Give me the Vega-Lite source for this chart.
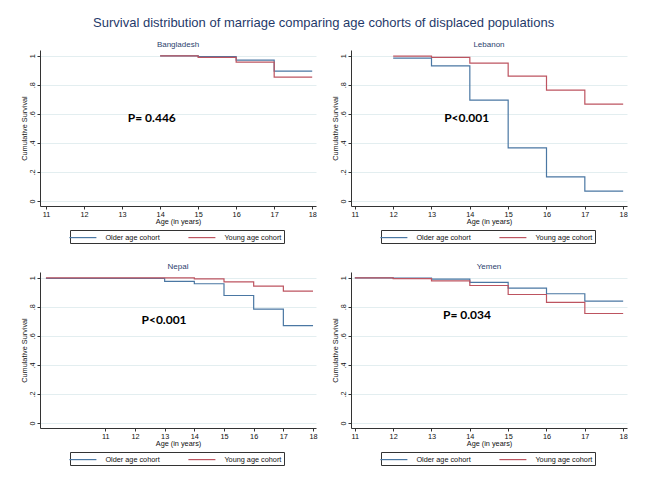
{
  "$schema": "https://vega.github.io/schema/vega-lite/v6.json",
  "background": "white",
  "padding": {"left": 20, "top": 17, "right": 0, "bottom": 0},
  "title": {"text": "Survival distribution of marriage comparing age cohorts of displaced populations", "fontSize": 13, "font": "Liberation Sans", "fontWeight": "normal", "color": "#1f3a6a", "anchor": "middle", "offset": 11},
  "datasets": {
    "bangladesh": [
      {"age": 14, "surv": 1.0, "cohort": "Older age cohort"},
      {"age": 15, "surv": 0.995, "cohort": "Older age cohort"},
      {"age": 16, "surv": 0.970, "cohort": "Older age cohort"},
      {"age": 17, "surv": 0.894, "cohort": "Older age cohort"},
      {"age": 18, "surv": 0.894, "cohort": "Older age cohort"},
      {"age": 14, "surv": 1.0, "cohort": "Young age cohort"},
      {"age": 15, "surv": 0.989, "cohort": "Young age cohort"},
      {"age": 16, "surv": 0.956, "cohort": "Young age cohort"},
      {"age": 17, "surv": 0.853, "cohort": "Young age cohort"},
      {"age": 18, "surv": 0.853, "cohort": "Young age cohort"}
    ],
    "lebanon": [
      {"age": 12, "surv": 0.984, "cohort": "Older age cohort"},
      {"age": 13, "surv": 0.931, "cohort": "Older age cohort"},
      {"age": 14, "surv": 0.694, "cohort": "Older age cohort"},
      {"age": 15, "surv": 0.366, "cohort": "Older age cohort"},
      {"age": 16, "surv": 0.166, "cohort": "Older age cohort"},
      {"age": 17, "surv": 0.067, "cohort": "Older age cohort"},
      {"age": 18, "surv": 0.067, "cohort": "Older age cohort"},
      {"age": 12, "surv": 0.998, "cohort": "Young age cohort"},
      {"age": 13, "surv": 0.989, "cohort": "Young age cohort"},
      {"age": 14, "surv": 0.949, "cohort": "Young age cohort"},
      {"age": 15, "surv": 0.860, "cohort": "Young age cohort"},
      {"age": 16, "surv": 0.763, "cohort": "Young age cohort"},
      {"age": 17, "surv": 0.667, "cohort": "Young age cohort"},
      {"age": 18, "surv": 0.667, "cohort": "Young age cohort"}
    ],
    "nepal": [
      {"age": 9, "surv": 0.996, "cohort": "Older age cohort"},
      {"age": 13, "surv": 0.975, "cohort": "Older age cohort"},
      {"age": 14, "surv": 0.959, "cohort": "Older age cohort"},
      {"age": 15, "surv": 0.878, "cohort": "Older age cohort"},
      {"age": 16, "surv": 0.784, "cohort": "Older age cohort"},
      {"age": 17, "surv": 0.671, "cohort": "Older age cohort"},
      {"age": 18, "surv": 0.671, "cohort": "Older age cohort"},
      {"age": 9, "surv": 1.0, "cohort": "Young age cohort"},
      {"age": 14, "surv": 0.993, "cohort": "Young age cohort"},
      {"age": 15, "surv": 0.972, "cohort": "Young age cohort"},
      {"age": 16, "surv": 0.943, "cohort": "Young age cohort"},
      {"age": 17, "surv": 0.908, "cohort": "Young age cohort"},
      {"age": 18, "surv": 0.908, "cohort": "Young age cohort"}
    ],
    "yemen": [
      {"age": 11, "surv": 1.0, "cohort": "Older age cohort"},
      {"age": 12, "surv": 0.998, "cohort": "Older age cohort"},
      {"age": 13, "surv": 0.991, "cohort": "Older age cohort"},
      {"age": 14, "surv": 0.968, "cohort": "Older age cohort"},
      {"age": 15, "surv": 0.929, "cohort": "Older age cohort"},
      {"age": 16, "surv": 0.890, "cohort": "Older age cohort"},
      {"age": 17, "surv": 0.839, "cohort": "Older age cohort"},
      {"age": 18, "surv": 0.839, "cohort": "Older age cohort"},
      {"age": 11, "surv": 1.0, "cohort": "Young age cohort"},
      {"age": 12, "surv": 0.995, "cohort": "Young age cohort"},
      {"age": 13, "surv": 0.979, "cohort": "Young age cohort"},
      {"age": 14, "surv": 0.947, "cohort": "Young age cohort"},
      {"age": 15, "surv": 0.885, "cohort": "Young age cohort"},
      {"age": 16, "surv": 0.830, "cohort": "Young age cohort"},
      {"age": 17, "surv": 0.754, "cohort": "Young age cohort"},
      {"age": 18, "surv": 0.754, "cohort": "Young age cohort"}
    ]
  },
  "columns": 2,
  "spacing": {"row": 19, "column": 13},
  "resolve": {"scale": {"x": "independent", "y": "independent", "color": "independent"}, "legend": {"color": "independent"}},
  "concat": [
    {
      "width": 276, "height": 156,
      "title": {"text": "Bangladesh", "fontWeight": "normal"},
      "layer": [
        {
          "data": {"name": "bangladesh"},
          "mark": {"type": "line", "interpolate": "step-after", "strokeWidth": 1.2},
          "encoding": {
            "x": {"field": "age", "type": "quantitative", "scale": {"domain": [10.84, 18.1], "nice": false, "zero": false}, "axis": {"values": [11, 12, 13, 14, 15, 16, 17, 18], "tickCount": 20, "format": "d", "title": "Age (in years)", "labelOverlap": false}},
            "y": {"field": "surv", "type": "quantitative", "scale": {"domain": [-0.035, 1.04], "nice": false}, "axis": {"values": [0, 0.2, 0.4, 0.6, 0.8, 1], "tickCount": 20, "title": "Cumulative Survival", "labelOverlap": false}},
            "color": {"field": "cohort", "type": "nominal", "scale": {"domain": ["Older age cohort", "Young age cohort"], "range": ["#4a77a3", "#bd5460"]}, "legend": {"orient": "none", "legendX": 30, "legendY": 180}}
          }
        },
        {
          "data": {"values": [{"label": "P= 0.446"}]},
          "mark": {"type": "text", "align": "left", "baseline": "middle", "font": "Lato", "fontWeight": "bold", "fontSize": 12, "color": "black"},
          "encoding": {"x": {"datum": 13.15}, "y": {"datum": 0.572}, "text": {"field": "label"}}
        }
      ]
    },
    {
      "width": 276, "height": 156,
      "title": {"text": "Lebanon", "fontWeight": "normal"},
      "layer": [
        {
          "data": {"name": "lebanon"},
          "mark": {"type": "line", "interpolate": "step-after", "strokeWidth": 1.2},
          "encoding": {
            "x": {"field": "age", "type": "quantitative", "scale": {"domain": [10.9, 18.1], "nice": false, "zero": false}, "axis": {"values": [11, 12, 13, 14, 15, 16, 17, 18], "tickCount": 20, "format": "d", "title": "Age (in years)", "labelOverlap": false}},
            "y": {"field": "surv", "type": "quantitative", "scale": {"domain": [-0.035, 1.04], "nice": false}, "axis": {"values": [0, 0.2, 0.4, 0.6, 0.8, 1], "tickCount": 20, "title": "Cumulative Survival", "labelOverlap": false}},
            "color": {"field": "cohort", "type": "nominal", "scale": {"domain": ["Older age cohort", "Young age cohort"], "range": ["#4a77a3", "#bd5460"]}, "legend": {"orient": "none", "legendX": 30, "legendY": 180}}
          }
        },
        {
          "data": {"values": [{"label": "P<0.001"}]},
          "mark": {"type": "text", "align": "left", "baseline": "middle", "font": "Lato", "fontWeight": "bold", "fontSize": 12, "color": "black"},
          "encoding": {"x": {"datum": 13.33}, "y": {"datum": 0.572}, "text": {"field": "label"}}
        }
      ]
    },
    {
      "width": 276, "height": 156,
      "title": {"text": "Nepal", "fontWeight": "normal"},
      "layer": [
        {
          "data": {"name": "nepal"},
          "mark": {"type": "line", "interpolate": "step-after", "strokeWidth": 1.2},
          "encoding": {
            "x": {"field": "age", "type": "quantitative", "scale": {"domain": [8.8, 18.1], "nice": false, "zero": false}, "axis": {"values": [11, 12, 13, 14, 15, 16, 17, 18], "tickCount": 20, "format": "d", "title": "Age (in years)", "labelOverlap": false}},
            "y": {"field": "surv", "type": "quantitative", "scale": {"domain": [-0.035, 1.04], "nice": false}, "axis": {"values": [0, 0.2, 0.4, 0.6, 0.8, 1], "tickCount": 20, "title": "Cumulative Survival", "labelOverlap": false}},
            "color": {"field": "cohort", "type": "nominal", "scale": {"domain": ["Older age cohort", "Young age cohort"], "range": ["#4a77a3", "#bd5460"]}, "legend": {"orient": "none", "legendX": 30, "legendY": 180}}
          }
        },
        {
          "data": {"values": [{"label": "P<0.001"}]},
          "mark": {"type": "text", "align": "left", "baseline": "middle", "font": "Lato", "fontWeight": "bold", "fontSize": 12, "color": "black"},
          "encoding": {"x": {"datum": 12.22}, "y": {"datum": 0.708}, "text": {"field": "label"}}
        }
      ]
    },
    {
      "width": 276, "height": 156,
      "title": {"text": "Yemen", "fontWeight": "normal"},
      "layer": [
        {
          "data": {"name": "yemen"},
          "mark": {"type": "line", "interpolate": "step-after", "strokeWidth": 1.2},
          "encoding": {
            "x": {"field": "age", "type": "quantitative", "scale": {"domain": [10.9, 18.1], "nice": false, "zero": false}, "axis": {"values": [11, 12, 13, 14, 15, 16, 17, 18], "tickCount": 20, "format": "d", "title": "Age (in years)", "labelOverlap": false}},
            "y": {"field": "surv", "type": "quantitative", "scale": {"domain": [-0.035, 1.04], "nice": false}, "axis": {"values": [0, 0.2, 0.4, 0.6, 0.8, 1], "tickCount": 20, "title": "Cumulative Survival", "labelOverlap": false}},
            "color": {"field": "cohort", "type": "nominal", "scale": {"domain": ["Older age cohort", "Young age cohort"], "range": ["#4a77a3", "#bd5460"]}, "legend": {"orient": "none", "legendX": 30, "legendY": 180}}
          }
        },
        {
          "data": {"values": [{"label": "P= 0.034"}]},
          "mark": {"type": "text", "align": "left", "baseline": "middle", "font": "Lato", "fontWeight": "bold", "fontSize": 12, "color": "black"},
          "encoding": {"x": {"datum": 13.3}, "y": {"datum": 0.742}, "text": {"field": "label"}}
        }
      ]
    }
  ],
  "config": {
    "font": "Liberation Sans",
    "view": {"stroke": null},
    "title": {"fontSize": 8, "font": "Liberation Sans", "fontWeight": "normal", "color": "#2b3f6e", "offset": 1},
    "axis": {"labelFont": "Liberation Sans", "titleFont": "Liberation Sans", "labelFontSize": 7.3, "titleFontSize": 7.3, "titleFontWeight": "normal", "labelColor": "#111", "titleColor": "#111", "domainColor": "#333", "tickColor": "#333", "tickSize": 3, "labelPadding": 1, "labelOverlap": false},
    "axisX": {"grid": false, "titlePadding": 0.5, "labelFlush": false},
    "axisY": {"grid": true, "gridColor": "#e3eef0", "gridWidth": 1, "labelAngle": -90, "labelAlign": "center", "labelBaseline": "bottom", "titlePadding": 0, "labelExpr": "replace(format(datum.value, '.1~f'), '0.', '.')"},
    "legend": {"title": null, "direction": "horizontal", "strokeColor": "#333", "padding": 2, "symbolType": "M -3 0 H 3", "symbolSize": 81, "symbolOffset": 5.4, "symbolStrokeWidth": 1.2, "labelFontSize": 7.3, "labelFont": "Liberation Sans", "labelColor": "#111", "labelOffset": 17, "columnPadding": 26}
  }
}
